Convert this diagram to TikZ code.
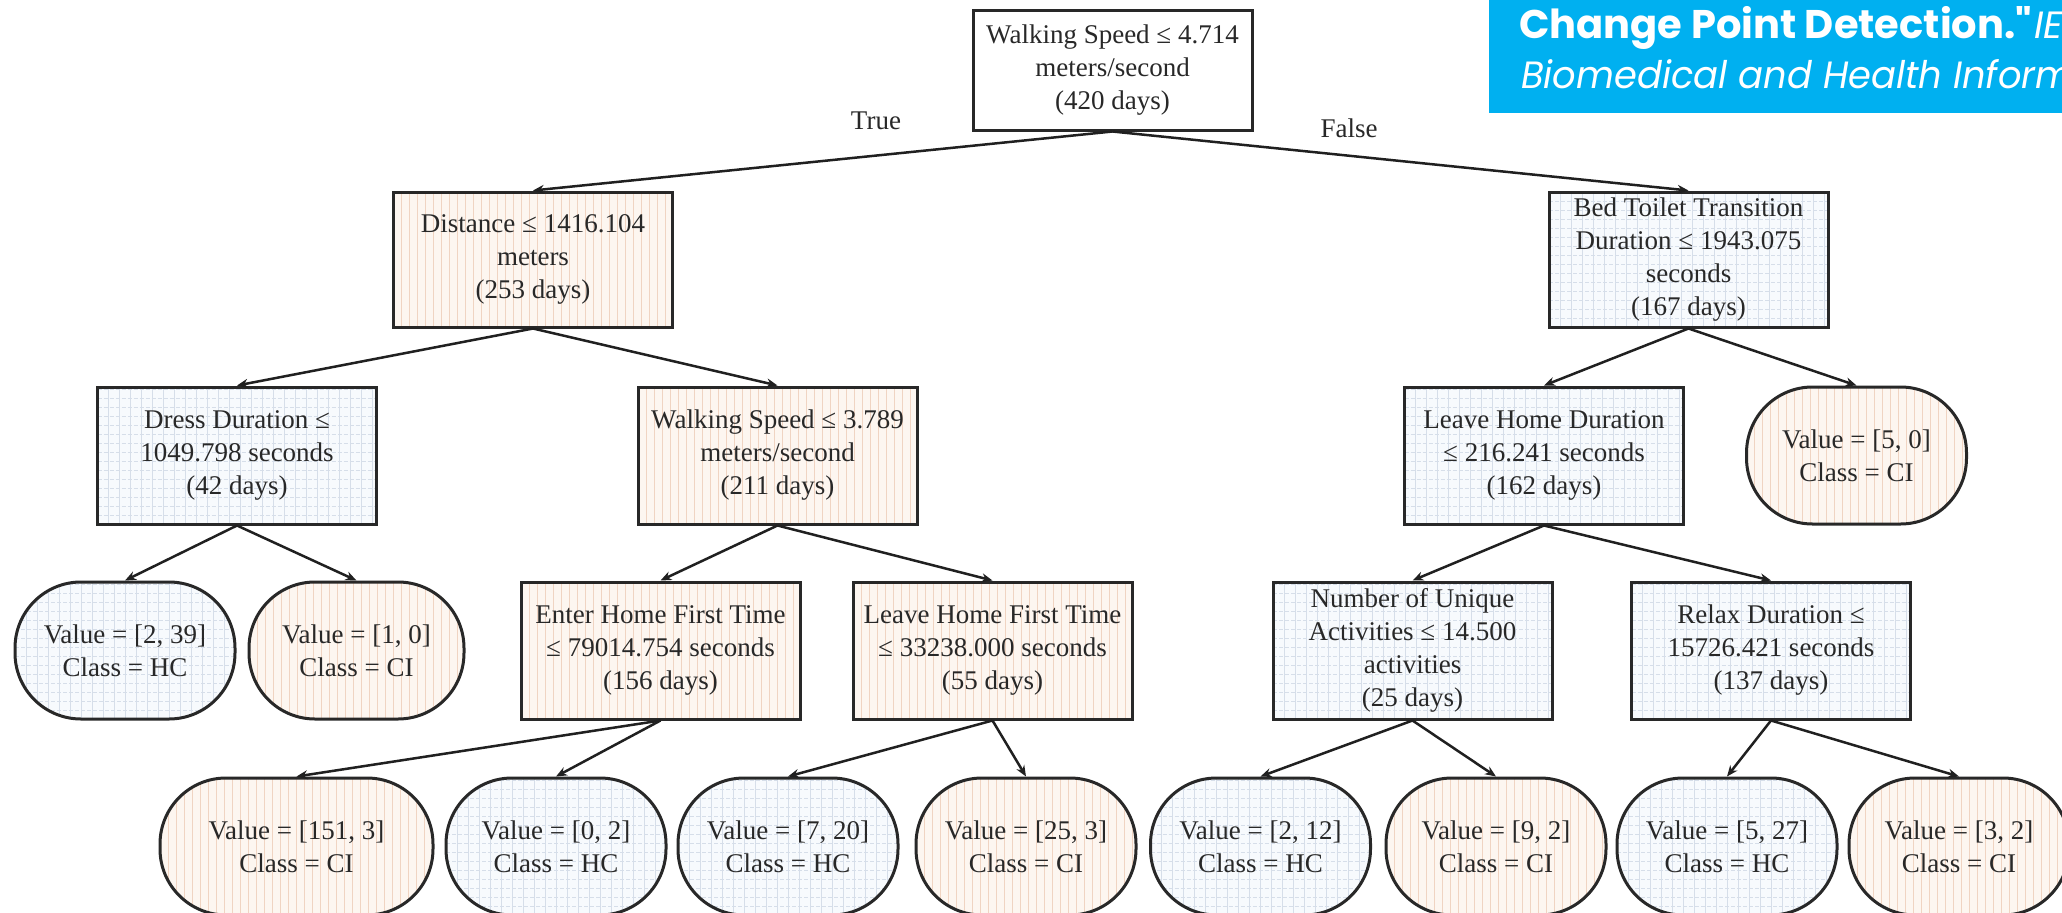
\documentclass[tikz,border=0pt]{standalone}
\usepackage{fontspec}
\setmainfont{Liberation Serif}
\newfontfamily\bannerfont{Poppins}
\usetikzlibrary{arrows.meta}

\definecolor{cibg}{RGB}{253,246,240}
\definecolor{ciline}{RGB}{240,212,194}
\definecolor{hcbg}{RGB}{247,250,253}
\definecolor{hcline}{RGB}{214,222,233}
\definecolor{ink}{RGB}{40,40,40}
\definecolor{bannerblue}{RGB}{0,176,240}

\tikzset{
  txt/.style={font=\fontsize{27}{33}\selectfont, text=ink, align=center, inner sep=0pt},
  split/.style={txt, draw=ink, line width=3pt, minimum width=279pt, minimum height=135pt},
  leaf/.style={split, rounded corners=66pt, minimum width=220pt, minimum height=137pt},
  ci/.style={fill=cibg, path picture={
    \foreach \k in {0,8,...,296}
      \draw[ciline, line width=1pt] ([xshift=\k pt]path picture bounding box.north west)
        -- ([xshift=\k pt]path picture bounding box.south west);
  }},
  hc/.style={fill=hcbg, path picture={
    \foreach \k in {0,11,...,296}
      \draw[hcline, line width=1pt] ([xshift=\k pt]path picture bounding box.north west)
        -- ([xshift=\k pt]path picture bounding box.south west);
    \foreach \k in {0,9,...,144}
      \draw[hcline, line width=1pt, dash pattern=on 4pt off 2pt] ([yshift=\k pt]path picture bounding box.south west)
        -- ([yshift=\k pt]path picture bounding box.south east);
  }},
  edge/.style={draw=ink!80!black, line width=2.5pt, -{Stealth[length=11pt,width=9pt]}},
  banner/.style={font=\bannerfont, text=white, inner sep=0pt, anchor=base west}
}

\begin{document}
\begin{tikzpicture}[x=1pt,y=-1pt]
  \useasboundingbox (0,0) rectangle (2062,913);
  \clip (0,0) rectangle (2062,913);
  \fill[white] (0,0) rectangle (2062,913);

  % banner in the corner
  \fill[bannerblue] (1489,0) rectangle (2062,113);
  \node[banner] (bannera) at (1519,38) {{\fontsize{40}{46}\selectfont\bfseries Change Point Detection."} {\fontsize{38}{44}\selectfont\itshape IEEE Journal of}};
  \node[banner] (bannerb) at (1521,88) {\scalebox{0.97}[1]{\fontsize{38}{44}\selectfont\itshape Biomedical and Health Informatics}};

  % root
  \node[split, fill=white, minimum height=120pt] (root) at (1112.5,70) {Walking Speed ≤ 4.714\\meters/second\\(420 days)};
  \node[txt] (truelbl) at (876,121) {True};
  \node[txt] (falselbl) at (1349,128) {False};

  % level 1
  \node[split, ci] (dist) at (533,259.5) {Distance ≤ 1416.104\\meters\\(253 days)};
  \node[split, hc] (bed) at (1688.5,259.5) {Bed Toilet Transition\\Duration ≤ 1943.075\\seconds\\(167 days)};

  % level 2
  \node[split, hc, minimum height=137pt] (dress) at (237,455.5) {Dress Duration ≤\\1049.798 seconds\\(42 days)};
  \node[split, ci, minimum height=137pt] (walk) at (777.5,455.5) {Walking Speed ≤ 3.789\\meters/second\\(211 days)};
  \node[split, hc, minimum height=137pt] (lhdur) at (1544,455.5) {Leave Home Duration\\≤ 216.241 seconds\\(162 days)};
  \node[leaf, ci] (vfivezero) at (1856.5,455.5) {Value = [5, 0]\\Class = CI};

  % level 3
  \node[leaf, hc] (vtwothirtynine) at (125,650.5) {Value = [2, 39]\\Class = HC};
  \node[leaf, ci, minimum width=215pt] (vonezero) at (356.5,650.5) {Value = [1, 0]\\Class = CI};
  \node[split, ci, minimum height=137pt] (enter) at (660.5,650.5) {Enter Home First Time\\≤ 79014.754 seconds\\(156 days)};
  \node[split, ci, minimum height=137pt] (lhfirst) at (992.5,650.5) {Leave Home First Time\\≤ 33238.000 seconds\\(55 days)};
  \node[split, hc, minimum height=137pt] (nuniq) at (1412.5,650.5) {Number of Unique\\Activities ≤ 14.500\\activities\\(25 days)};
  \node[split, hc, minimum height=137pt] (relax) at (1771,650.5) {Relax Duration ≤\\15726.421 seconds\\(137 days)};

  % level 4
  \node[leaf, ci, minimum width=273pt] (lfa) at (296.5,846.5) {Value = [151, 3]\\Class = CI};
  \node[leaf, hc] (lfb) at (556,846.5) {Value = [0, 2]\\Class = HC};
  \node[leaf, hc] (lfc) at (788,846.5) {Value = [7, 20]\\Class = HC};
  \node[leaf, ci] (lfd) at (1026,846.5) {Value = [25, 3]\\Class = CI};
  \node[leaf, hc] (lfe) at (1260.5,846.5) {Value = [2, 12]\\Class = HC};
  \node[leaf, ci] (lff) at (1496,846.5) {Value = [9, 2]\\Class = CI};
  \node[leaf, hc] (lfg) at (1727,846.5) {Value = [5, 27]\\Class = HC};
  \node[leaf, ci] (lfh) at (1959,846.5) {Value = [3, 2]\\Class = CI};

  % connectors
  \draw[edge] (root.south) -- (dist.north);
  \draw[edge] (root.south) -- (bed.north);
  \draw[edge] (dist.south) -- (dress.north);
  \draw[edge] (dist.south) -- (walk.north);
  \draw[edge] (bed.south) -- (lhdur.north);
  \draw[edge] (bed.south) -- (vfivezero.north);
  \draw[edge] (dress.south) -- (vtwothirtynine.north);
  \draw[edge] (dress.south) -- (vonezero.north);
  \draw[edge] (walk.south) -- (enter.north);
  \draw[edge] (walk.south) -- (lhfirst.north);
  \draw[edge] (lhdur.south) -- (nuniq.north);
  \draw[edge] (lhdur.south) -- (relax.north);
  \draw[edge] (enter.south) -- (lfa.north);
  \draw[edge] (enter.south) -- (lfb.north);
  \draw[edge] (lhfirst.south) -- (lfc.north);
  \draw[edge] (lhfirst.south) -- (lfd.north);
  \draw[edge] (nuniq.south) -- (lfe.north);
  \draw[edge] (nuniq.south) -- (lff.north);
  \draw[edge] (relax.south) -- (lfg.north);
  \draw[edge] (relax.south) -- (lfh.north);
\end{tikzpicture}
\end{document}
